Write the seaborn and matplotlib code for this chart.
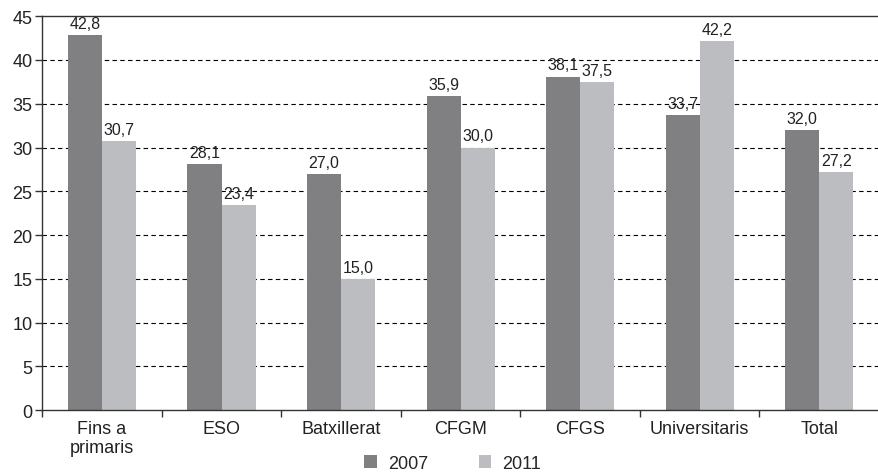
import seaborn as sns
import matplotlib.pyplot as plt
import pandas as pd

categories = ['Fins a\nprimaris', 'ESO', 'Batxillerat', 'CFGM', 'CFGS', 'Universitaris', 'Total']
vals_2007 = [42.8, 28.1, 27.0, 35.9, 38.1, 33.7, 32.0]
vals_2011 = [30.7, 23.4, 15.0, 30.0, 37.5, 42.2, 27.2]
years = ['2007', '2011']

df = pd.DataFrame({
    'cat': categories * 2,
    'year': [years[0]] * len(categories) + [years[1]] * len(categories),
    'val': vals_2007 + vals_2011,
})

sns.set_style('white')
plt.rcParams['font.family'] = ['Liberation Sans', 'DejaVu Sans']

fig = plt.figure(figsize=(8.79, 4.77), dpi=100)
ax = fig.add_axes([0.048, 0.138, 0.952, 0.826])
sns.barplot(data=df, x='cat', y='val', hue='year', ax=ax, width=0.57,
            palette=['#808083', '#bcbdc0'], saturation=1, linewidth=0)

for cont in ax.containers:
    ax.bar_label(cont, labels=[f'{v:.1f}'.replace('.', ',') for v in cont.datavalues],
                 padding=3, fontsize=11.5, color='#222222')

ax.set_ylim(0, 45)
ax.set_yticks(range(0, 46, 5))
ax.set_xlim(-0.5, len(categories) - 0.5)
for y in range(5, 45, 5):
    ax.axhline(y, color='black', lw=0.8, ls=(0, (4, 3)), zorder=0)
ax.set_axisbelow(True)

ax.set_xticks([i - 0.5 for i in range(len(categories))], minor=True)
ax.tick_params(axis='x', which='major', length=0, labelsize=13, pad=7, labelcolor='#222222')
ax.tick_params(axis='x', which='minor', length=5, width=1, color='#333333', bottom=True)
ax.tick_params(axis='y', length=5, width=1, color='#333333', left=True, labelsize=13, pad=2,
               labelcolor='#222222')
ax.set_xlabel('')
ax.set_ylabel('')
for s in ['left', 'bottom', 'top']:
    ax.spines[s].set_color('#333333')
    ax.spines[s].set_linewidth(1)
ax.spines['right'].set_visible(False)

handles, labels = ax.get_legend_handles_labels()
ax.get_legend().remove()
fig.legend(handles, labels, loc='center', bbox_to_anchor=(0.515, 0.027), ncol=2, frameon=False,
           fontsize=13, handlelength=0.7, handleheight=0.7, handletextpad=0.6,
           columnspacing=2.8)

fig.savefig('out.png', dpi=100)
